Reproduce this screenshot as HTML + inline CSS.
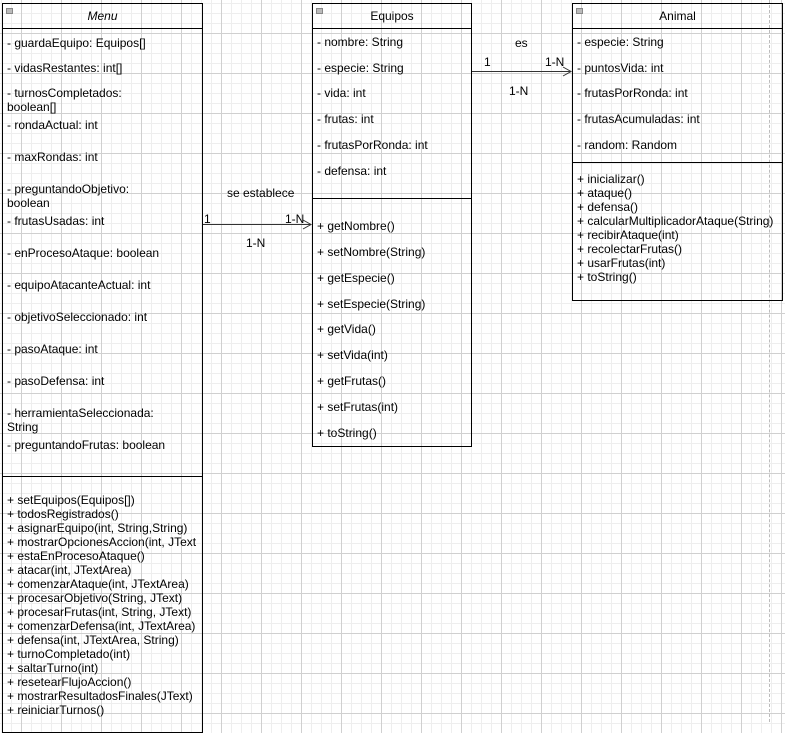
<!DOCTYPE html>
<html><head><meta charset="utf-8"><style>
body{margin:0;width:785px;height:722px;overflow:hidden;position:relative;font-family:"Liberation Sans",Arial,sans-serif;font-size:12px;color:#000;
background-color:#fff;
background-image:
linear-gradient(to right,#d0d0d0 1px,transparent 1px),
linear-gradient(to bottom,#d0d0d0 1px,transparent 1px),
linear-gradient(to right,#eeeeee 1px,transparent 1px),
linear-gradient(to bottom,#eeeeee 1px,transparent 1px);
background-size:40px 40px,40px 40px,10px 10px,10px 10px;
background-position:21px 0,0 33px,1px 0,0 3px;}
.box{position:absolute;border:1px solid #000;box-sizing:border-box}
.hl{position:absolute;height:1px;background:#000}
.t{position:absolute;white-space:nowrap;line-height:14px}
.icon{position:absolute;width:7px;height:6px;background:#bbb;border:1px solid #888;box-sizing:border-box}
</style></head><body>
<div style="position:absolute;left:769px;top:0;width:0;height:722px;border-left:1px dashed #bbb"></div>

<!-- Menu -->
<div class="box" style="left:2px;top:3px;width:201px;height:730px"></div>
<div class="hl" style="left:2px;top:28px;width:201px"></div>
<div class="hl" style="left:2px;top:476px;width:201px"></div>
<div class="icon" style="left:6px;top:8px"></div>
<div class="t" style="left:2px;width:201px;text-align:center;top:9px;font-style:italic">Menu</div>
<div class="t" style="left:7px;top:36px">- guardaEquipo: Equipos[]</div>
<div class="t" style="left:7px;top:61px">- vidasRestantes: int[]</div>
<div class="t" style="left:7px;top:86px">- turnosCompletados:</div>
<div class="t" style="left:7px;top:100px">boolean[]</div>
<div class="t" style="left:7px;top:118px">- rondaActual: int</div>
<div class="t" style="left:7px;top:150px">- maxRondas: int</div>
<div class="t" style="left:7px;top:182px">- preguntandoObjetivo:</div>
<div class="t" style="left:7px;top:196px">boolean</div>
<div class="t" style="left:7px;top:214px">- frutasUsadas: int</div>
<div class="t" style="left:7px;top:246px">- enProcesoAtaque: boolean</div>
<div class="t" style="left:7px;top:278px">- equipoAtacanteActual: int</div>
<div class="t" style="left:7px;top:310px">- objetivoSeleccionado: int</div>
<div class="t" style="left:7px;top:342px">- pasoAtaque: int</div>
<div class="t" style="left:7px;top:374px">- pasoDefensa: int</div>
<div class="t" style="left:7px;top:406px">- herramientaSeleccionada:</div>
<div class="t" style="left:7px;top:420px">String</div>
<div class="t" style="left:7px;top:438px">- preguntandoFrutas: boolean</div>
<div class="t" style="left:7px;top:493px">+ setEquipos(Equipos[])<br>+ todosRegistrados()<br>+ asignarEquipo(int, String,String)<br>+ mostrarOpcionesAccion(int, JText<br>+ estaEnProcesoAtaque()<br>+ atacar(int, JTextArea)<br>+ comenzarAtaque(int, JTextArea)<br>+ procesarObjetivo(String, JText)<br>+ procesarFrutas(int, String, JText)<br>+ comenzarDefensa(int, JTextArea)<br>+ defensa(int, JTextArea, String)<br>+ turnoCompletado(int)<br>+ saltarTurno(int)<br>+ resetearFlujoAccion()<br>+ mostrarResultadosFinales(JText)<br>+ reiniciarTurnos()</div>

<!-- Equipos -->
<div class="box" style="left:312px;top:3px;width:160px;height:444px"></div>
<div class="hl" style="left:312px;top:28px;width:160px"></div>
<div class="hl" style="left:312px;top:198px;width:160px"></div>
<div class="icon" style="left:316px;top:8px"></div>
<div class="t" style="left:312px;width:160px;text-align:center;top:9px">Equipos</div>
<div class="t" style="left:317px;top:35px">- nombre: String</div>
<div class="t" style="left:317px;top:61px">- especie: String</div>
<div class="t" style="left:317px;top:86px">- vida: int</div>
<div class="t" style="left:317px;top:112px">- frutas: int</div>
<div class="t" style="left:317px;top:138px">- frutasPorRonda: int</div>
<div class="t" style="left:317px;top:164px">- defensa: int</div>
<div class="t" style="left:317px;top:219px">+ getNombre()</div>
<div class="t" style="left:317px;top:245px">+ setNombre(String)</div>
<div class="t" style="left:317px;top:271px">+ getEspecie()</div>
<div class="t" style="left:317px;top:297px">+ setEspecie(String)</div>
<div class="t" style="left:317px;top:322px">+ getVida()</div>
<div class="t" style="left:317px;top:348px">+ setVida(int)</div>
<div class="t" style="left:317px;top:374px">+ getFrutas()</div>
<div class="t" style="left:317px;top:400px">+ setFrutas(int)</div>
<div class="t" style="left:317px;top:426px">+ toString()</div>

<!-- Animal -->
<div class="box" style="left:572px;top:3px;width:211px;height:298px"></div>
<div class="hl" style="left:572px;top:28px;width:211px"></div>
<div class="hl" style="left:572px;top:162px;width:211px"></div>
<div class="icon" style="left:576px;top:8px"></div>
<div class="t" style="left:572px;width:211px;text-align:center;top:9px">Animal</div>
<div class="t" style="left:577px;top:35px">- especie: String</div>
<div class="t" style="left:577px;top:61px">- puntosVida: int</div>
<div class="t" style="left:577px;top:86px">- frutasPorRonda: int</div>
<div class="t" style="left:577px;top:112px">- frutasAcumuladas: int</div>
<div class="t" style="left:577px;top:138px">- random: Random</div>
<div class="t" style="left:577px;top:172px">+ inicializar()<br>+ ataque()<br>+ defensa()<br>+ calcularMultiplicadorAtaque(String)<br>+ recibirAtaque(int)<br>+ recolectarFrutas()<br>+ usarFrutas(int)<br>+ toString()</div>

<!-- connectors -->
<svg style="position:absolute;left:0;top:0" width="785" height="722">
<path d="M203 224.5H311M303 220L311 224.5L303 229" fill="none" stroke="#333" stroke-width="1"/>
<path d="M472 71.5H571M563 67L571 71.5L563 76" fill="none" stroke="#333" stroke-width="1"/>
</svg>
<div class="t" style="left:227px;top:186px">se establece</div>
<div class="t" style="left:204px;top:212px">1</div>
<div class="t" style="left:285px;top:212px">1-N</div>
<div class="t" style="left:246px;top:236px">1-N</div>
<div class="t" style="left:515px;top:36px">es</div>
<div class="t" style="left:484px;top:55px">1</div>
<div class="t" style="left:545px;top:55px">1-N</div>
<div class="t" style="left:509px;top:84px">1-N</div>
</body></html>
